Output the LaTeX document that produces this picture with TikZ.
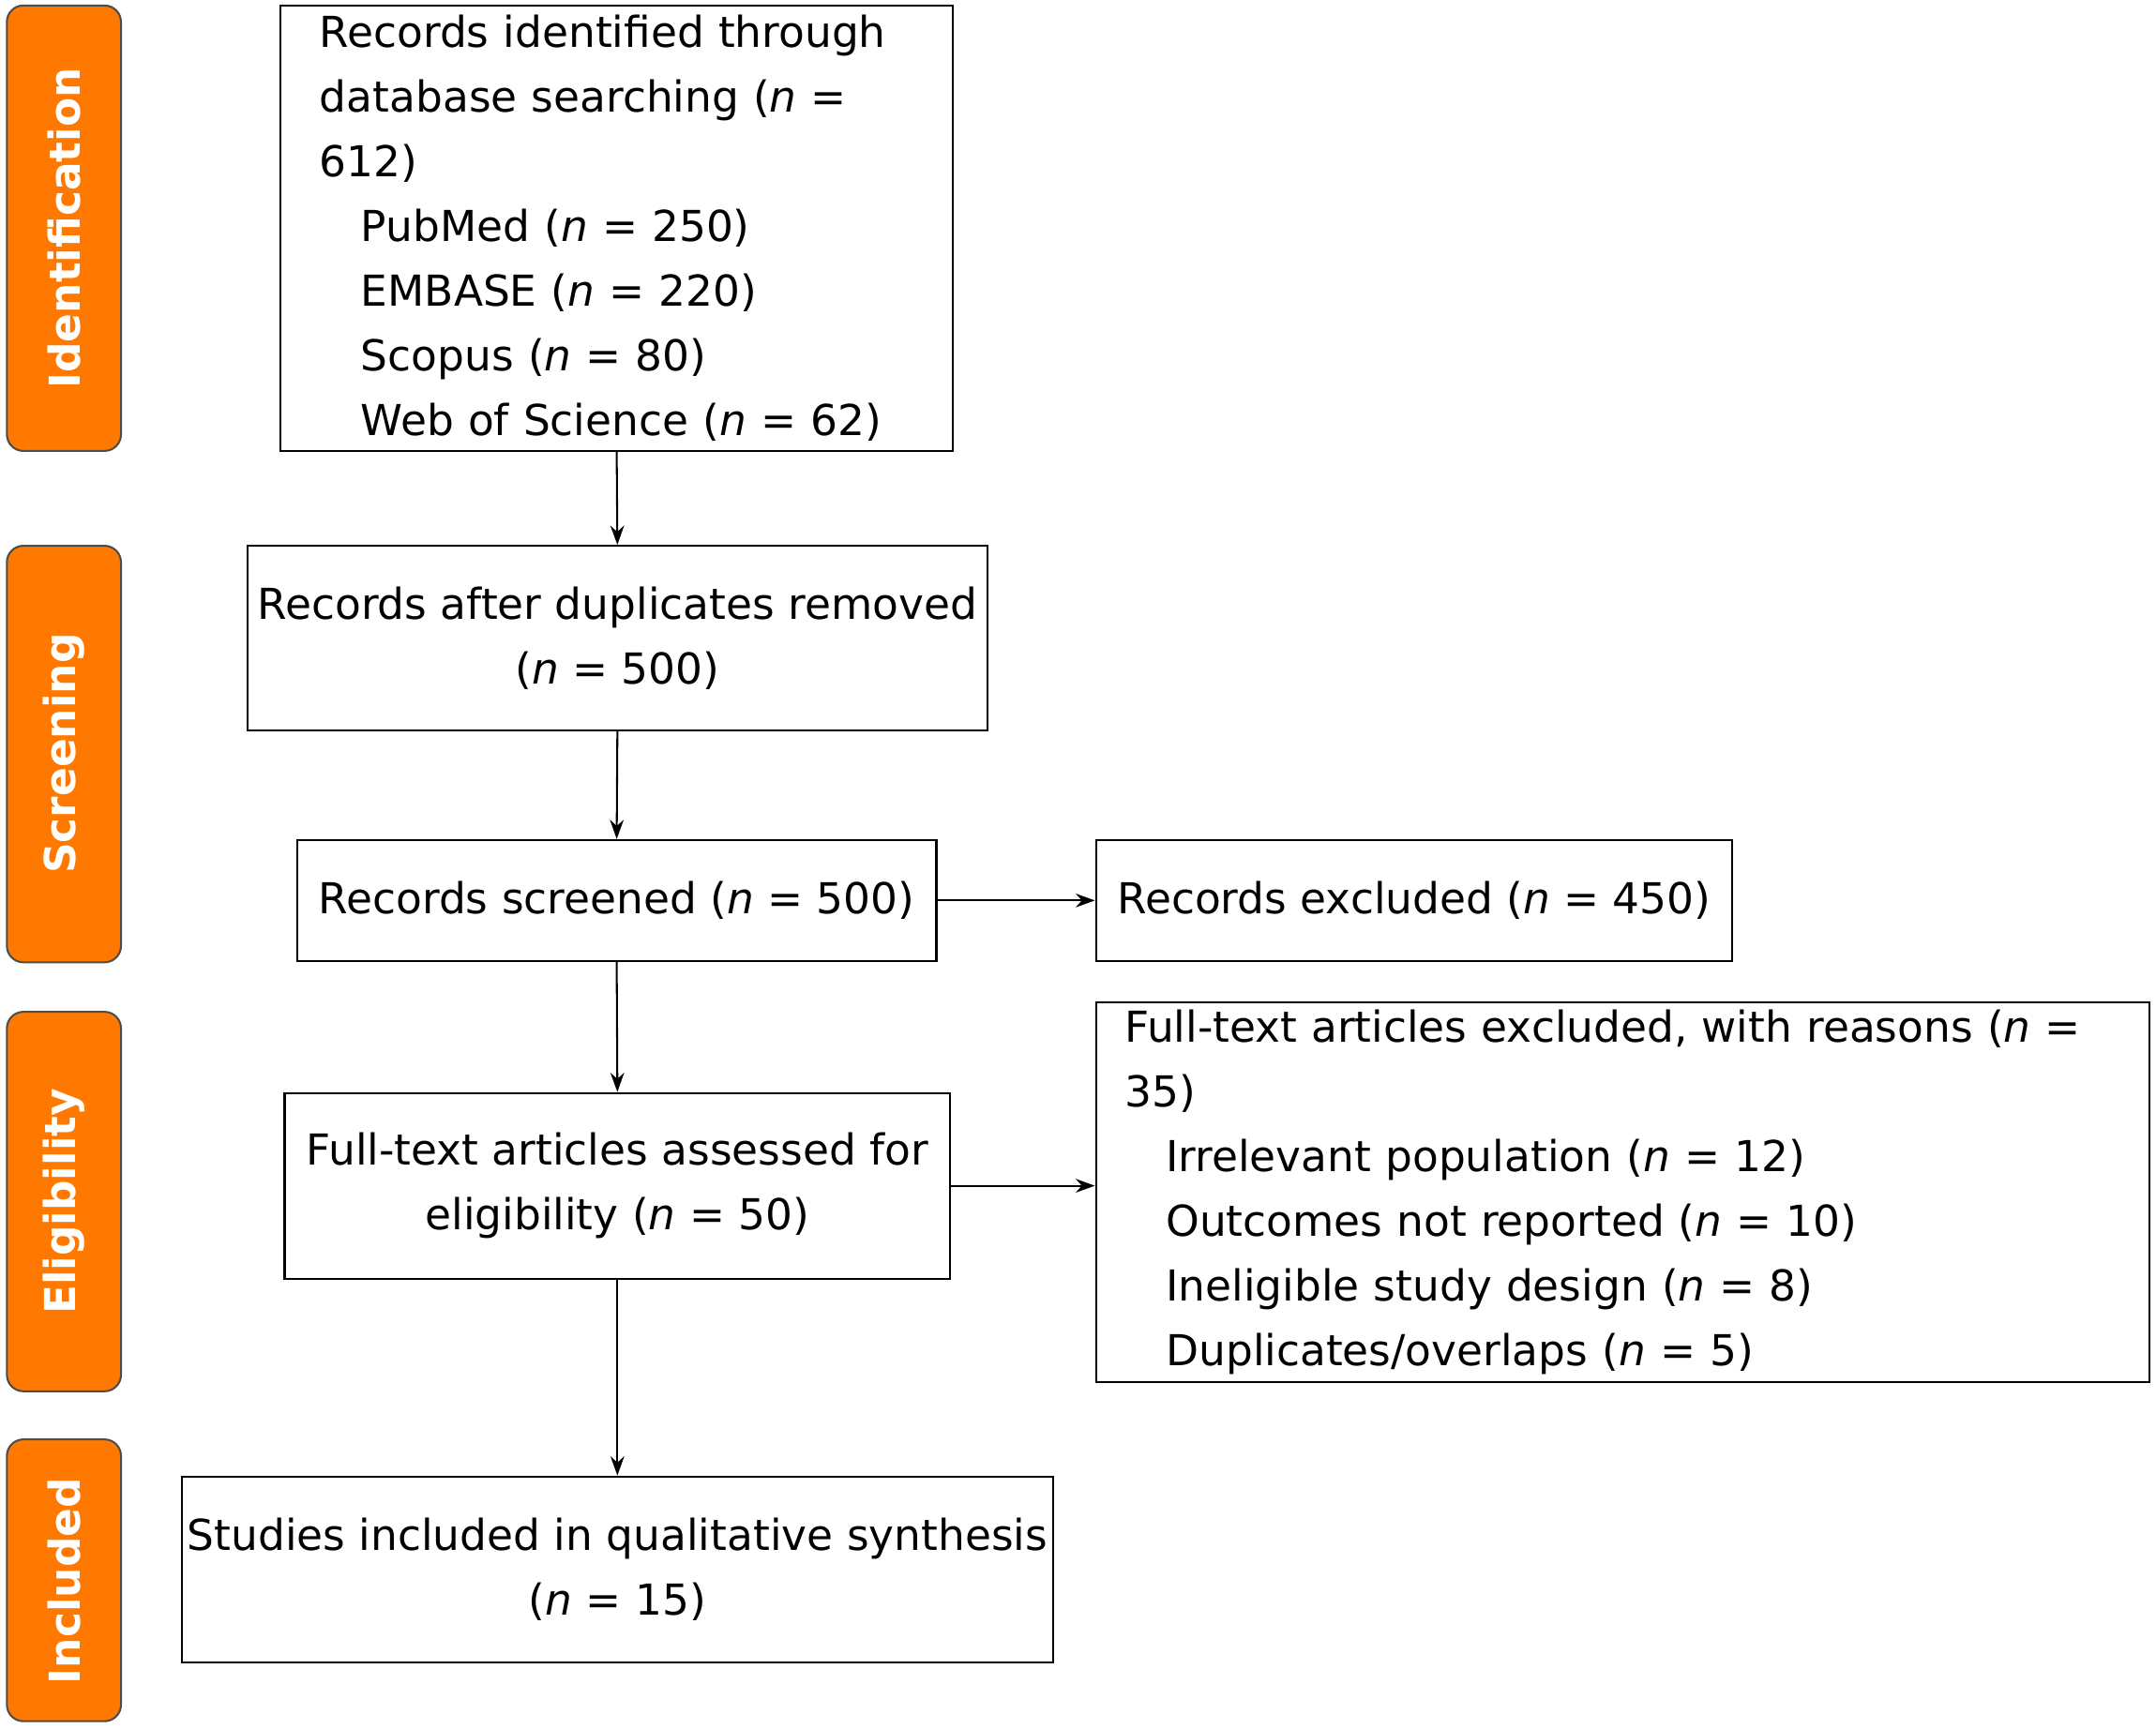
\documentclass[tikz,border=0pt]{standalone}
\usepackage{fontspec}
\setmainfont{DejaVu Sans}
\usetikzlibrary{arrows.meta}
\begin{document}
\begin{tikzpicture}[x=0.5pt,y=-0.5pt,
  box/.style={draw,line width=0.7pt,inner sep=0pt,font=\fontsize{15.5}{23.5}\selectfont},
  bar/.style={draw=black!70,fill=orange!95!red,rounded corners=6pt,line width=0.7pt},
  bartxt/.style={rotate=90,text=white,font=\bfseries\fontsize{15.5}{18}\selectfont},
  arr/.style={-{Stealth[length=7pt,width=5pt]},line width=0.7pt}]
\useasboundingbox (0,0) rectangle (1568,1257);
\newcommand{\nn}{\textit{n}}
% side bars
\draw[bar] (5,4) rectangle (88,328); \node[bartxt] (l1) at (46.5,166) {Identification};
\draw[bar] (5,397) rectangle (88,700); \node[bartxt] (l2) at (46.5,548) {Screening};
\draw[bar] (5,736) rectangle (88,1012); \node[bartxt] (l3) at (46.5,874) {Eligibility};
\draw[bar] (5,1047) rectangle (88,1252); \node[bartxt] (l4) at (46.5,1150) {Included};
% boxes
\node[box,minimum width=244.5pt,minimum height=162pt,text width=216pt,align=left] (id) at (448.5,166)
 {Records identified through\\database searching (\nn{} = 612)\\
 \hspace*{15pt}PubMed (\nn{} = 250)\\ \hspace*{15pt}EMBASE (\nn{} = 220)\\
 \hspace*{15pt}Scopus (\nn{} = 80)\\ \hspace*{15pt}Web of Science (\nn{} = 62)};
\node[box,minimum width=269pt,minimum height=67pt,align=center] (dup) at (449,464)
 {Records after duplicates removed\\(\nn{} = 500)};
\node[box,minimum width=232.5pt,minimum height=44pt,align=center] (scr) at (448.5,655)
 {Records screened (\nn{} = 500)};
\node[box,minimum width=231.5pt,minimum height=44pt,align=center] (exc) at (1028.5,655)
 {Records excluded (\nn{} = 450)};
\node[box,minimum width=242pt,minimum height=67.5pt,align=center] (ft) at (449,862.5)
 {Full-text articles assessed for\\eligibility (\nn{} = 50)};
\node[box,minimum width=383pt,minimum height=138pt,text width=362pt,align=left] (rea) at (1180,867)
 {Full-text articles excluded, with reasons (\nn{} = 35)\\
 \hspace*{15pt}Irrelevant population (\nn{} = 12)\\
 \hspace*{15pt}Outcomes not reported (\nn{} = 10)\\
 \hspace*{15pt}Ineligible study design (\nn{} = 8)\\
 \hspace*{15pt}Duplicates/overlaps (\nn{} = 5)};
\node[box,minimum width=317pt,minimum height=67.5pt,align=center] (inc) at (449,1141.5)
 {Studies included in qualitative synthesis\\(\nn{} = 15)};
% arrows
\draw[arr] (id.south) -- (dup.north);
\draw[arr] (dup.south) -- (scr.north);
\draw[arr] (scr.south) -- (ft.north);
\draw[arr] (ft.south) -- (inc.north);
\draw[arr] (scr.east) -- (exc.west);
\draw[arr] (ft.east) -- (ft.east -| rea.west);
\end{tikzpicture}
\end{document}
